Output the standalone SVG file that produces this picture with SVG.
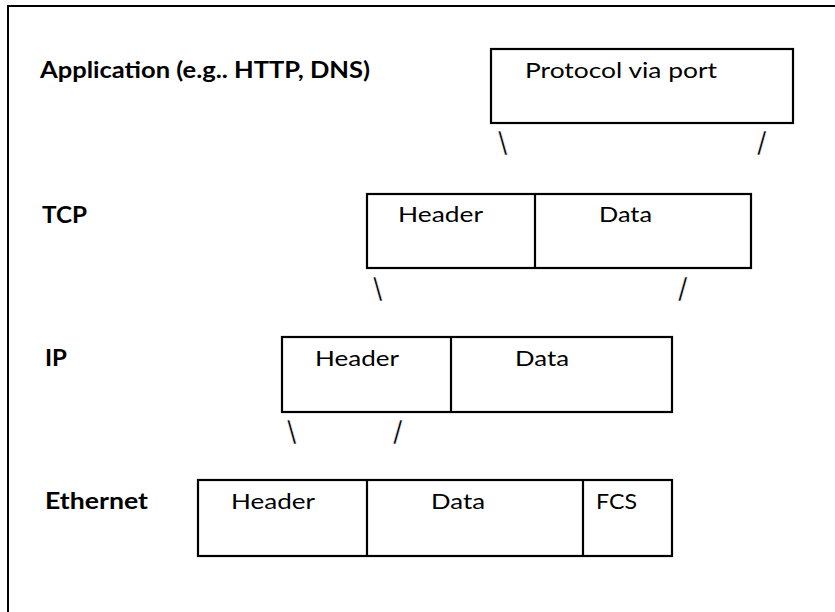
<svg xmlns="http://www.w3.org/2000/svg" width="835" height="612" viewBox="0 0 835 612">
  <style>
    .frame { fill: none; stroke: #000; stroke-width: 2; }
    .box { fill: #fff; stroke: #000; stroke-width: 2.2; }
    .div { stroke: #000; stroke-width: 2.2; }
    .layer { font-family: Lato, "Open Sans", "Liberation Sans", sans-serif; font-weight: bold; font-size: 22px; fill: #000; }
    .field { font-family: Lato, "Open Sans", "Liberation Sans", sans-serif; font-size: 22px; fill: #000; }
    .slash { font-family: "Liberation Sans", Arial, sans-serif; font-size: 34px; fill: #000; stroke: #fff; stroke-width: 0.7; }
  </style>

  <rect width="835" height="612" fill="#fff"/>
  <!-- page frame, runs past the right and bottom edges -->
  <rect class="frame" x="8" y="6" width="850" height="640"/>

  <!-- layer names -->
  <g id="layer-labels">
    <text class="layer" x="40" y="78" textLength="330" lengthAdjust="spacingAndGlyphs">Application (e.g.. HTTP, DNS)</text>
    <text class="layer" x="42" y="223" textLength="45" lengthAdjust="spacingAndGlyphs">TCP</text>
    <text class="layer" x="45" y="366" textLength="22" lengthAdjust="spacingAndGlyphs">IP</text>
    <text class="layer" x="45" y="509" textLength="103" lengthAdjust="spacingAndGlyphs">Ethernet</text>
  </g>

  <!-- application payload -->
  <g id="app-box">
    <rect class="box" x="491" y="49" width="302" height="74"/>
    <text class="field" x="525" y="78" textLength="192" lengthAdjust="spacingAndGlyphs">Protocol via port</text>
  </g>

  <!-- TCP segment -->
  <g id="tcp-box">
    <rect class="box" x="367" y="194" width="384" height="74"/>
    <line class="div" x1="535" y1="194" x2="535" y2="268"/>
    <text class="field" x="398" y="222" textLength="85" lengthAdjust="spacingAndGlyphs">Header</text>
    <text class="field" x="599" y="222" textLength="53" lengthAdjust="spacingAndGlyphs">Data</text>
  </g>

  <!-- IP packet -->
  <g id="ip-box">
    <rect class="box" x="282" y="337" width="390" height="75"/>
    <line class="div" x1="451" y1="337" x2="451" y2="412"/>
    <text class="field" x="315" y="366" textLength="84" lengthAdjust="spacingAndGlyphs">Header</text>
    <text class="field" x="515" y="366" textLength="54" lengthAdjust="spacingAndGlyphs">Data</text>
  </g>

  <!-- Ethernet frame -->
  <g id="eth-box">
    <rect class="box" x="198" y="480" width="474" height="76"/>
    <line class="div" x1="367" y1="480" x2="367" y2="556"/>
    <line class="div" x1="583" y1="480" x2="583" y2="556"/>
    <text class="field" x="231" y="509" textLength="84" lengthAdjust="spacingAndGlyphs">Header</text>
    <text class="field" x="431" y="509" textLength="54" lengthAdjust="spacingAndGlyphs">Data</text>
    <text class="field" x="596" y="509" textLength="41" lengthAdjust="spacingAndGlyphs">FCS</text>
  </g>

  <!-- encapsulation marks between layers -->
  <g id="connectors">
    <text class="slash" x="498" y="155">\</text>
    <text class="slash" x="757" y="155">/</text>
    <text class="slash" x="373" y="301">\</text>
    <text class="slash" x="678" y="301">/</text>
    <text class="slash" x="287" y="444">\</text>
    <text class="slash" x="393" y="444">/</text>
  </g>
</svg>
